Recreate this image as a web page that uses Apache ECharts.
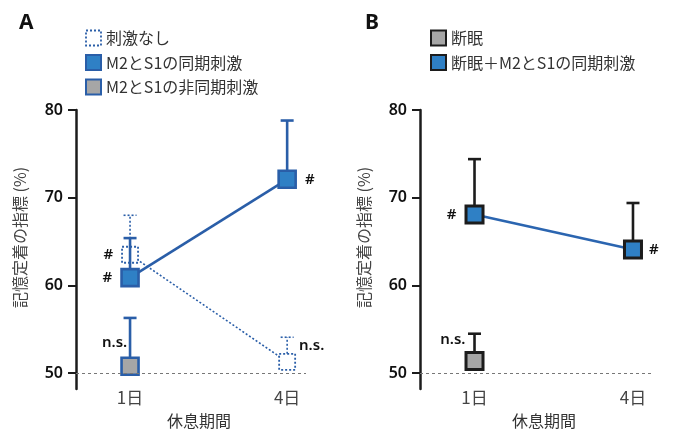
<!DOCTYPE html>
<html>
<head>
<meta charset="utf-8">
<script src="https://cdn.jsdelivr.net/npm/echarts@6/dist/echarts.min.js"></script>
<style>
  html, body { margin: 0; padding: 0; background: #fff; }
  #chart { width: 680px; height: 430px; }
</style>
</head>
<body>
<div id="chart"></div>
<script>
// data (mean and top of error bar)
const days = ['1日', '4日']
const yTicks = [50, 60, 70, 80]

const noStimMean = [63.5, 51.3]
const noStimTop = [68.0, 54.1]
const noStimMarks = ['#', 'n.s.']

const syncMean = [60.9, 72.1]
const syncTop = [65.4, 78.8]
const syncMarks = ['#', '#']

const asyncMean = [50.8]
const asyncTop = [56.3]
const asyncMarks = ['n.s.']

const sdMean = [51.4]
const sdTop = [54.5]
const sdMarks = ['n.s.']

const sdSyncMean = [68.1, 64.1]
const sdSyncTop = [74.4, 69.4]
const sdSyncMarks = ['#', '#']

const blueFill = '#2f80c5'
const blueEdge = '#2a5ea8'
const gray = '#a6a6a6'
const black = '#1c1c1c'
const font = '"Noto Sans CJK JP", "Noto Sans", sans-serif'

const markFont = { fontSize: 15, fontWeight: 600, color: '#111', fontFamily: '"Noto Sans", sans-serif' }

// label placement per point: [position, distance, offset]
function lbl(text, pos, dist, off) {
  return { show: true, formatter: text, position: pos, distance: dist, offset: off || [0, 0], ...markFont }
}

function pts(mean, marks, places) {
  return mean.map((v, i) => ({ value: [i, v], label: lbl(marks[i], ...places[i]) }))
}

function errData(mean, top) {
  return mean.map((v, i) => [i, v, top[i]])
}

function errBar(color, dash, width) {
  return function (params, api) {
    const p0 = api.coord([api.value(0), api.value(1)])
    const p1 = api.coord([api.value(0), api.value(2)])
    const style = { stroke: color, lineWidth: width, lineDash: dash, fill: null }
    return {
      type: 'group',
      children: [
        { type: 'line', shape: { x1: p0[0], y1: p0[1], x2: p1[0], y2: p1[1] }, style },
        { type: 'line', shape: { x1: p1[0] - 6.5, y1: p1[1], x2: p1[0] + 6.5, y2: p1[1] }, style },
      ],
    }
  }
}

function xAxis(idx) {
  return {
    type: 'value',
    gridIndex: idx,
    min: -0.344,
    max: 1.12,
    axisLine: { show: false, onZero: false },
    axisTick: { show: false },
    splitLine: { show: false },
    axisLabel: {
      customValues: [0, 1],
      formatter: v => days[Math.round(v)],
      fontSize: 17,
      lineHeight: 18,
      color: '#444',
      margin: 0,
      fontFamily: font,
    },
    name: '休息期間',
    nameLocation: 'middle',
    nameGap: 23,
    nameTextStyle: { fontSize: 16, lineHeight: 17, color: '#333', fontFamily: font, padding: [0, 0, 0, 16] },
  }
}

function yAxis(idx) {
  return {
    type: 'value',
    gridIndex: idx,
    min: 48.2,
    max: 80,
    axisLine: { show: true, onZero: false, lineStyle: { color: black, width: 2.5 } },
    axisTick: { show: true, customValues: yTicks, length: 8, lineStyle: { color: black, width: 2 } },
    splitLine: { show: false },
    axisLabel: {
      customValues: yTicks,
      fontSize: 16,
      fontWeight: 600,
      color: '#111',
      margin: 13,
      fontFamily: '"Noto Sans", sans-serif',
    },
    name: '記憶定着の指標 (%)',
    nameLocation: 'middle',
    nameGap: 48,
    nameTextStyle: { fontSize: 16, color: '#444', fontFamily: font, padding: [0, 0, 0, 24] },
  }
}

const baseLine = {
  silent: true,
  symbol: ['none', 'none'],
  label: { show: false },
  lineStyle: { type: [3, 3], color: '#777', width: 1.2 },
  data: [{ yAxis: 50 }],
}

const legendBase = {
  orient: 'vertical', itemWidth: 15, itemHeight: 15, itemGap: 6.5, icon: 'rect',
  padding: 0, selectedMode: false,
  textStyle: { fontSize: 16, lineHeight: 18, color: '#333', fontFamily: font },
}

const chart = echarts.init(document.getElementById('chart'))
chart.setOption({
  animation: false,
  title: [
    { text: 'A', left: 14, top: 8, textStyle: { fontSize: 21, fontWeight: 'bold', color: '#111', fontFamily: '"Noto Sans", sans-serif' } },
    { text: 'B', left: 360, top: 8, textStyle: { fontSize: 21, fontWeight: 'bold', color: '#111', fontFamily: '"Noto Sans", sans-serif' } },
  ],
  legend: [
    {
      ...legendBase, left: 85, top: 29,
      data: [
        { name: '刺激なし', itemStyle: { borderType: [2, 2], borderWidth: 1.8 } },
        'M2とS1の同期刺激',
        'M2とS1の非同期刺激',
      ],
    },
    {
      ...legendBase, left: 430, top: 29,
      data: ['断眠', '断眠＋M2とS1の同期刺激'],
    },
  ],
  grid: [
    { left: 76, top: 110, width: 230, height: 279, outerBoundsMode: 'none' },
    { left: 420, top: 110, width: 232, height: 279, outerBoundsMode: 'none' },
  ],
  xAxis: [xAxis(0), xAxis(1)],
  yAxis: [yAxis(0), yAxis(1)],
  series: [
    // panel A
    {
      type: 'custom', xAxisIndex: 0, yAxisIndex: 0, z: 1, silent: true,
      renderItem: errBar(blueEdge, [2, 2], 1.6),
      data: errData(noStimMean, noStimTop),
      markLine: baseLine,
    },
    {
      name: '刺激なし', type: 'line', xAxisIndex: 0, yAxisIndex: 0, z: 2,
      symbol: 'rect', symbolSize: 16,
      lineStyle: { color: blueEdge, width: 1.6, type: [2, 2] },
      itemStyle: { color: '#fff', borderColor: blueEdge, borderWidth: 1.8, borderType: [2, 2] },
      emphasis: { disabled: true },
      data: pts(noStimMean, noStimMarks, [['left', 8], ['right', 3, [0, -16]]]),
    },
    {
      type: 'custom', xAxisIndex: 0, yAxisIndex: 0, z: 3, silent: true,
      renderItem: errBar(blueEdge, null, 2.6),
      data: errData(asyncMean, asyncTop),
    },
    {
      type: 'custom', xAxisIndex: 0, yAxisIndex: 0, z: 3, silent: true,
      renderItem: errBar(blueEdge, null, 2.6),
      data: errData(syncMean, syncTop),
    },
    {
      name: 'M2とS1の非同期刺激', type: 'line', xAxisIndex: 0, yAxisIndex: 0, z: 4,
      symbol: 'rect', symbolSize: 17,
      itemStyle: { color: gray, borderColor: blueEdge, borderWidth: 2.6 },
      emphasis: { disabled: true },
      data: pts(asyncMean, asyncMarks, [['left', 0, [7, -23]]]),
    },
    {
      name: 'M2とS1の同期刺激', type: 'line', xAxisIndex: 0, yAxisIndex: 0, z: 4,
      symbol: 'rect', symbolSize: 17,
      lineStyle: { color: blueEdge, width: 2.6 },
      itemStyle: { color: blueFill, borderColor: blueEdge, borderWidth: 2.6 },
      emphasis: { disabled: true },
      data: pts(syncMean, syncMarks, [['left', 8], ['right', 8]]),
    },
    // panel B
    {
      type: 'custom', xAxisIndex: 1, yAxisIndex: 1, z: 3, silent: true,
      renderItem: errBar(black, null, 2.6),
      data: errData(sdMean, sdTop),
      markLine: baseLine,
    },
    {
      type: 'custom', xAxisIndex: 1, yAxisIndex: 1, z: 3, silent: true,
      renderItem: errBar(black, null, 2.6),
      data: errData(sdSyncMean, sdSyncTop),
    },
    {
      name: '断眠', type: 'line', xAxisIndex: 1, yAxisIndex: 1, z: 4,
      symbol: 'rect', symbolSize: 17,
      itemStyle: { color: gray, borderColor: black, borderWidth: 3 },
      emphasis: { disabled: true },
      data: pts(sdMean, sdMarks, [['left', 0, [1, -21]]]),
    },
    {
      name: '断眠＋M2とS1の同期刺激', type: 'line', xAxisIndex: 1, yAxisIndex: 1, z: 4,
      symbol: 'rect', symbolSize: 17,
      lineStyle: { color: '#2b65b0', width: 2.6 },
      itemStyle: { color: blueFill, borderColor: black, borderWidth: 3 },
      emphasis: { disabled: true },
      data: pts(sdSyncMean, sdSyncMarks, [['left', 8], ['right', 6]]),
    },
  ],
})
</script>
</body>
</html>
